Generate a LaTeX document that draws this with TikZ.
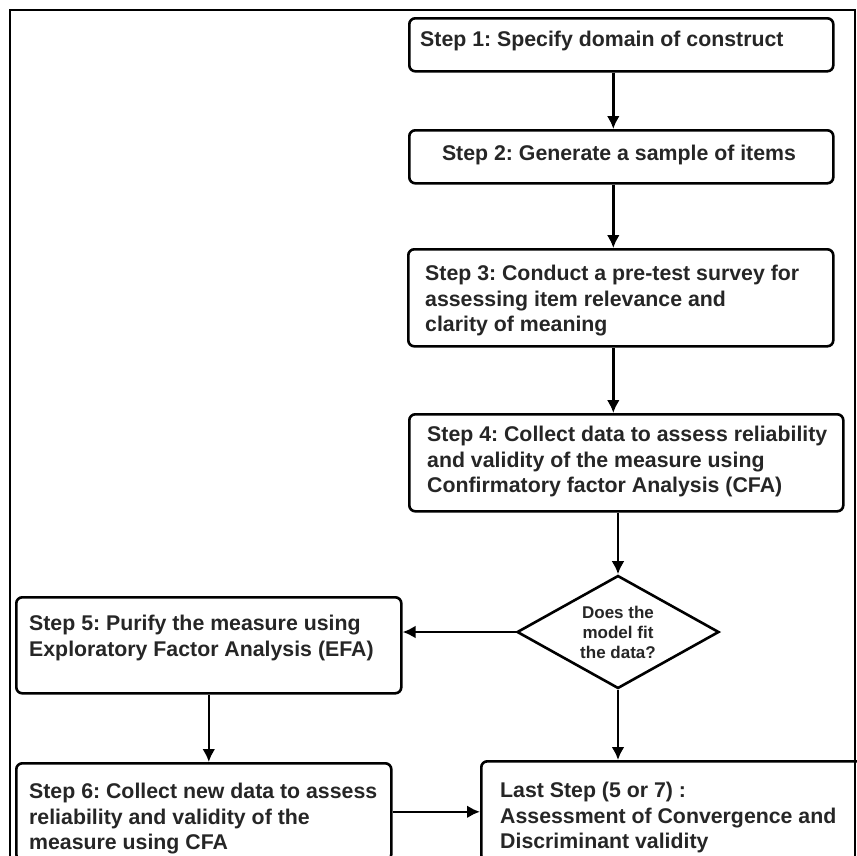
\documentclass[tikz,border=0pt]{standalone}
\usepackage{fontspec}
\setmainfont{Liberation Sans}
\usetikzlibrary{arrows.meta,shapes.geometric}
\frenchspacing
\begin{document}
\begin{tikzpicture}[
      x=1pt, y=-1pt,
      >={Latex[length=13pt,width=13pt]},
      stepbox/.style={
          rectangle, rounded corners=6pt,
          draw, line width=2.6pt,
          anchor=north west, inner sep=0pt
      },
      steptext/.style={
          anchor=north west, align=left, inner sep=0pt, text=black!85,
          font=\fontsize{21.3}{25.5}\selectfont\bfseries
      },
      decision/.style={
          diamond, aspect=1.8, draw, line width=2.6pt,
          minimum width=202pt, minimum height=113pt, inner sep=0pt,
          align=center, text=black!85,
          font=\fontsize{17}{20}\selectfont\bfseries
      },
      flow/.style={->, line width=2.6pt}
  ]
    \useasboundingbox (0,0) rectangle (857,855);
    \clip (0,0) rectangle (857,855);

    % outer frame
    \draw[line width=1.5pt] (10,10) rectangle (855,900);

    % Step 1: domain of construct
    \node[stepbox, minimum width=424pt, minimum height=53pt] (s1) at (408,17) {};
    \node[steptext] (t1) at (420,31) {Step 1: Specify domain of construct};

    % Step 2: sample of items
    \node[stepbox, minimum width=424pt, minimum height=53pt] (s2) at (408,129) {};
    \node[steptext, anchor=north] (t2) at (619,145) {Step 2: Generate a sample of items};

    % Step 3: pre-test survey
    \node[stepbox, minimum width=425pt, minimum height=97pt] (s3) at (407,248) {};
    \node[steptext] (t3) at (425,265) {Step 3: Conduct a pre-test survey for\\
        assessing item relevance and\\clarity of meaning};

    % Step 4: CFA on collected data
    \node[stepbox, minimum width=434pt, minimum height=97pt] (s4) at (408,413) {};
    \node[steptext] (t4) at (427,426) {Step 4: Collect data to assess reliability\\
        and validity of the measure using\\Confirmatory factor Analysis (CFA)};

    % decision (below Step 4)
    \node[decision] (dec) at (618,632) {Does the\\model fit\\the data?};

    % Step 5: EFA (left of the decision)
    \node[stepbox, minimum width=385pt, minimum height=96pt] (s5) at (15,596) {};
    \node[steptext] (t5) at (29,615) {Step 5: Purify the measure using\\
        Exploratory Factor Analysis (EFA)};

    % Step 6: new data (below Step 5)
    \node[stepbox, minimum width=375pt, minimum height=97pt] (s6) at (15,762) {};
    \node[steptext] (t6) at (29,783) {Step 6: Collect new data to assess\\
        reliability and validity of the\\measure using CFA};

    % Last step (below the decision)
    \node[stepbox, minimum width=400pt, minimum height=100pt] (last) at (480,760) {};
    \node[steptext] (tl) at (500,782) {Last Step (5 or 7) :\\
        Assessment of Convergence and\\Discriminant validity};

    % Edges
    \draw[flow] ([xshift=-8pt]s1.south) -- ([xshift=-8pt]s2.north);
    \draw[flow] ([xshift=-8pt]s2.south) -- ([xshift=-8pt]s2.south |- s3.north);
    \draw[flow] ([xshift=-7.5pt]s3.south) -- ([xshift=-7.5pt]s3.south |- s4.north);
    \draw[flow] (s4.south -| dec.north) -- (dec.north);
    \draw[flow] (dec.west) -- (dec.west -| s5.east);
    \draw[flow] (dec.south) -- (dec.south |- last.north);
    \draw[flow] (s5.south) -- (s5.south |- s6.north);
    \draw[flow] (s6.east) -- (s6.east -| last.west);
  \end{tikzpicture}
\end{document}
